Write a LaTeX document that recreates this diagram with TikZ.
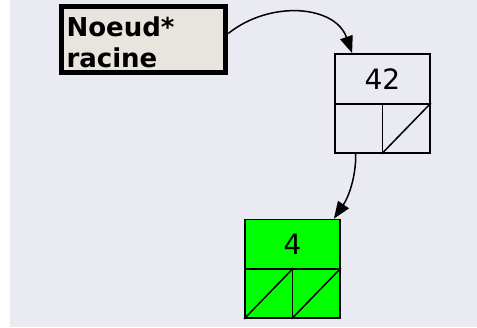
\documentclass[tikz,border=0pt]{standalone}
\usepackage{fontspec}
\setsansfont{DejaVu Sans}
\usetikzlibrary{arrows.meta}
\definecolor{fond}{HTML}{EAEAF2}
\definecolor{beige}{HTML}{E8E4DE}
\definecolor{vert}{HTML}{00FF00}

\tikzset{
	cellule/.style={draw, line width=1.8pt, inner sep=0pt, minimum width=95pt, minimum height=50pt, font=\sffamily\fontsize{28}{30}\selectfont},
	souscellule/.style={draw, line width=1.8pt, inner sep=0pt, minimum width=47.5pt, minimum height=49pt},
	racinebox/.style={draw, line width=5.5pt, fill=beige, inner xsep=5pt, text width=154pt, text height=25pt, minimum height=66pt, align=left, font=\sffamily\bfseries\fontsize{26}{31}\selectfont},
	lien/.style={line width=1.5pt, -{Triangle[length=17pt,width=13pt]}}
}

\begin{document}
\begin{tikzpicture}[x=1pt, y=-1pt]
		%%%%% START %%%%%
		\useasboundingbox (0, 0) rectangle (477, 327);
		\fill[fond] (10, 0) rectangle (477, 327);
		
		\node[racinebox] (racine) at (143.5, 39.5) {Noeud*\\racine};
		
		% noeud 42
		\node[cellule] (val42) at (382.5, 79) {42};
		\node[souscellule] (g42) at (358.75, 128.5) {};
		\node[souscellule] (d42) at (406.25, 128.5) {};
		\draw[line width=1.5pt] (d42.south west) -- (d42.north east);
		
		% noeud 4
		\node[cellule, fill=vert] (val4) at (292.5, 244.5) {4};
		\node[souscellule, fill=vert] (g4) at (268.75, 293.5) {};
		\node[souscellule, fill=vert] (d4) at (316.25, 293.5) {};
		\draw[line width=1.5pt] (g4.south west) -- (g4.north east);
		\draw[line width=1.5pt] (d4.south west) -- (d4.north east);
		
		\draw[lien] ([yshift=6pt]racine.east) .. controls (270, 0) and (335, 5) .. ([xshift=18pt]val42.north west);
		\draw[lien] ([xshift=-3pt]g42.south) .. controls (356, 178) and (348, 198) .. ([xshift=-7pt]val4.north east);
		
		%%%%% END %%%%%
\end{tikzpicture}
\end{document}
